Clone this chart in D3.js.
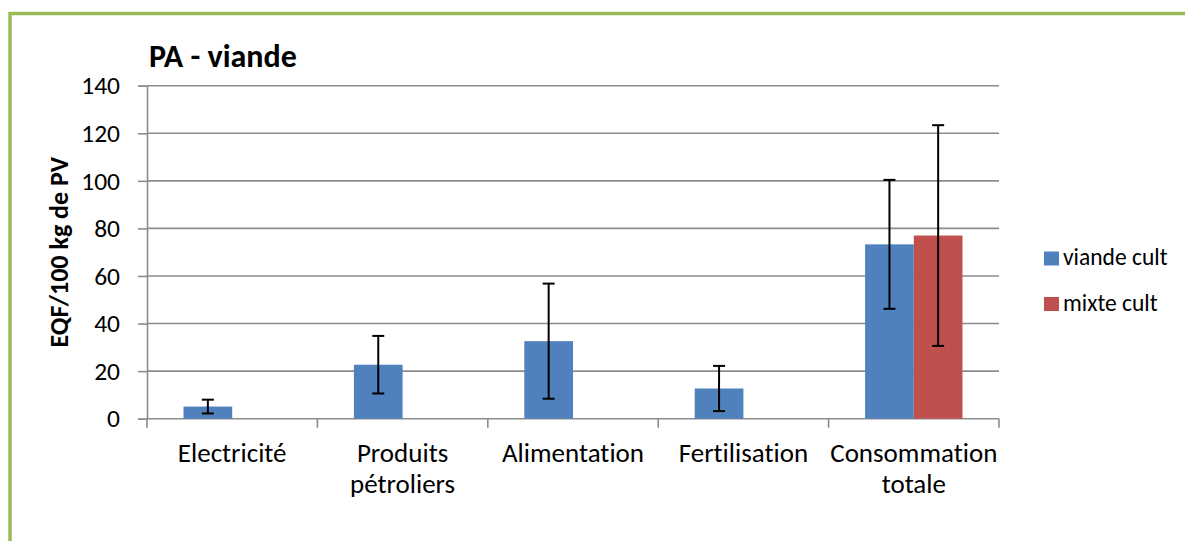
<!DOCTYPE html>
<html><head><meta charset="utf-8">
<script src="https://cdn.jsdelivr.net/npm/d3@7"></script>
<style>
html,body{margin:0;padding:0;background:#fff;}
svg{display:block;font-family:Carlito, Lato, "Noto Sans", sans-serif;font-variant-ligatures:none;font-feature-settings:"liga" 0;}
</style></head>
<body><svg id="c" width="1185" height="541"></svg>
<script>
const categories = ["Electricité","Produits pétroliers","Alimentation","Fertilisation","Consommation totale"];
const categoryLines = [["Electricité"],["Produits","pétroliers"],["Alimentation"],["Fertilisation"],["Consommation","totale"]];
const seriesNames = ["viande cult","mixte cult"];
const viandeCult = [5.1, 22.7, 32.6, 12.7, 73.3];
const viandeCultErr = [2.9, 12.1, 24.2, 9.5, 27.1];
const mixteCult = [null, null, null, null, 77.0];
const mixteCultErr = [null, null, null, null, 46.4];
const yTicks = [0,20,40,60,80,100,120,140];
const colors = ["#4F81BD","#C0504D"];
const title = "PA - viande";
const yLabel = "EQF/100 kg de PV";

const svg = d3.select("#c");
// frame
svg.append("rect").attr("x",10).attr("y",13.5).attr("width",1300).attr("height",700)
  .attr("fill","none").attr("stroke","#9BBB59").attr("stroke-width",3.5);

const L=147, R=999, T=85.7, B=418.7;
const x = d3.scaleBand().domain(categories).range([L,R]).padding(0);
const bw = x.bandwidth();
const xs = d3.scaleBand().domain(seriesNames).range([bw*0.75/3.5, bw*2.75/3.5]).padding(0);
const y = d3.scaleLinear().domain([0,140]).range([B,T]);

const grid="#8C8C8C";
// gridlines
svg.append("g").selectAll("line").data(yTicks.filter(d=>d>0)).join("line")
  .attr("x1",L).attr("x2",R).attr("y1",d=>y(d)).attr("y2",d=>y(d))
  .attr("stroke",grid).attr("stroke-width",1.6);

// y axis
const ya = svg.append("g").attr("transform",`translate(${L},0)`)
  .call(d3.axisLeft(y).tickValues(yTicks).tickSize(9).tickPadding(18));
ya.select(".domain").attr("stroke",grid).attr("stroke-width",1.6);
ya.selectAll(".tick line").attr("stroke",grid).attr("stroke-width",1.6);
ya.selectAll(".tick text").attr("font-size",25.5).attr("fill","#000").attr("font-family","Carlito, Lato, sans-serif");

// x axis line and ticks at boundaries
const boundaries = categories.map(c=>x(c)).concat([R]);
svg.append("line").attr("x1",L).attr("x2",R).attr("y1",B).attr("y2",B).attr("stroke",grid).attr("stroke-width",1.6);
svg.append("g").selectAll("line").data(boundaries).join("line")
  .attr("x1",d=>d).attr("x2",d=>d).attr("y1",B).attr("y2",B+9).attr("stroke",grid).attr("stroke-width",1.6);

// bars
const seriesVals=[viandeCult,mixteCult], seriesErr=[viandeCultErr,mixteCultErr];
seriesNames.forEach((s,si)=>{
  const data = categories.map((c,i)=>({c,v:seriesVals[si][i],e:seriesErr[si][i]})).filter(d=>d.v!=null);
  const g=svg.append("g");
  g.selectAll("rect").data(data).join("rect")
    .attr("x",d=>x(d.c)+xs(s)).attr("width",xs.bandwidth())
    .attr("y",d=>y(d.v)).attr("height",d=>y(0)-y(d.v))
    .attr("fill",colors[si]);
  const eg=svg.append("g").attr("stroke","#000").attr("stroke-width",2);
  data.forEach(d=>{
    const cx=x(d.c)+xs(s)+xs.bandwidth()/2;
    eg.append("line").attr("x1",cx).attr("x2",cx).attr("y1",y(d.v+d.e)).attr("y2",y(d.v-d.e));
    [d.v+d.e,d.v-d.e].forEach(v=>eg.append("line").attr("x1",cx-6).attr("x2",cx+6).attr("y1",y(v)).attr("y2",y(v)));
  });
});

// x labels
categories.forEach((c,i)=>{
  const t=svg.append("text").attr("text-anchor","middle").attr("font-size",27).attr("fill","#000")
    .attr("x",x(c)+bw/2).attr("y",461.5);
  categoryLines[i].forEach((ln,j)=>t.append("tspan").attr("x",x(c)+bw/2).attr("dy",j===0?0:31.5).text(ln));
});

// title
svg.append("text").attr("x",149).attr("y",67).attr("font-size",32).attr("font-weight","bold").text(title);
// y label
svg.append("text").attr("transform",`translate(68,${(T+B)/2}) rotate(-90)`).attr("text-anchor","middle")
  .attr("font-size",26).attr("font-weight","bold").text(yLabel);

// legend
const lg=svg.append("g");
seriesNames.forEach((s,i)=>{
  const yy=251.5+i*45.5;
  lg.append("rect").attr("x",1044).attr("y",yy).attr("width",15).attr("height",14).attr("fill",colors[i]);
  lg.append("text").attr("x",1063).attr("y",yy+13.5).attr("font-size",23.5).text(s);
});
</script></body></html>
